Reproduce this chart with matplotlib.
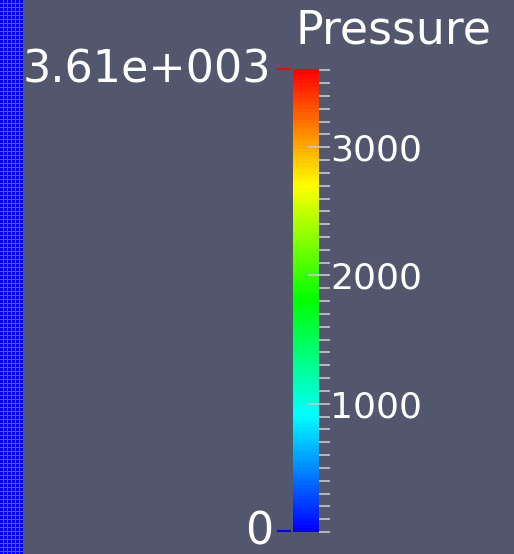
import colorsys
import numpy as np
import matplotlib
matplotlib.use("Agg")
import matplotlib.pyplot as plt
from matplotlib.colors import LinearSegmentedColormap, Normalize
from matplotlib.cm import ScalarMappable
from matplotlib.ticker import MultipleLocator

# data
title = "Pressure"
vmin, vmax = 0, 3610
major_ticks = [1000, 2000, 3000]
range_labels = ["0", "3.61e+003"]

bg = "#52576e"
W, H = 514, 554

fig = plt.figure(figsize=(W / 100, H / 100), dpi=100, facecolor=bg)

# blue mesh strip on the left edge (3px cells, 1px grey lines)
strip_w = 23
img = np.zeros((H, strip_w, 3))
img[:, :] = (0, 0, 1)
grid = np.array([0x62, 0x65, 0x8a]) / 255
img[3::4, :] = grid
img[:, 3::4] = grid
mesh_ax = fig.add_axes([0, 0, strip_w / W, 1])
mesh_ax.imshow(img, interpolation="nearest", aspect="auto")
mesh_ax.axis("off")

# rainbow colour map, blue -> red (HSV)
hues = np.linspace(2 / 3, 0, 256)
cols = [colorsys.hsv_to_rgb(h, 1, 1) for h in hues]
cmap = LinearSegmentedColormap.from_list("rainbow_pv", cols, N=128)

cax = fig.add_axes([293 / W, (H - 532) / H, 26 / W, 463 / H])
sm = ScalarMappable(norm=Normalize(vmin, vmax), cmap=cmap)
cb = fig.colorbar(sm, cax=cax, ticks=major_ticks)
cb.outline.set_visible(False)
cax.yaxis.set_minor_locator(MultipleLocator(100))
cax.tick_params(which="major", direction="inout", length=16, width=1.2, color="#c8c8c8",
                labelcolor="white", labelsize=26, pad=0)
cax.tick_params(which="minor", direction="out", length=8, width=1.2, color="#c8c8c8")
cax.set_yticklabels([str(t) for t in major_ticks])

# title
fig.text(394 / W, 1 - 31 / H, title, color="white", fontsize=33, ha="center", va="center")

# range labels with coloured dashes
fig.text(271 / W, 1 - 70 / H, range_labels[1], color="white", fontsize=32, ha="right", va="center")
fig.text(273 / W, 1 - 532 / H, range_labels[0], color="white", fontsize=32, ha="right", va="center")
fig.add_artist(plt.Line2D([278 / W, 290 / W], [1 - 69 / H, 1 - 69 / H], color="#ff0000", lw=1.5))
fig.add_artist(plt.Line2D([278 / W, 290 / W], [1 - 531 / H, 1 - 531 / H], color="#0000ff", lw=1.5))

fig.savefig("out.png", dpi=100, facecolor=bg)
